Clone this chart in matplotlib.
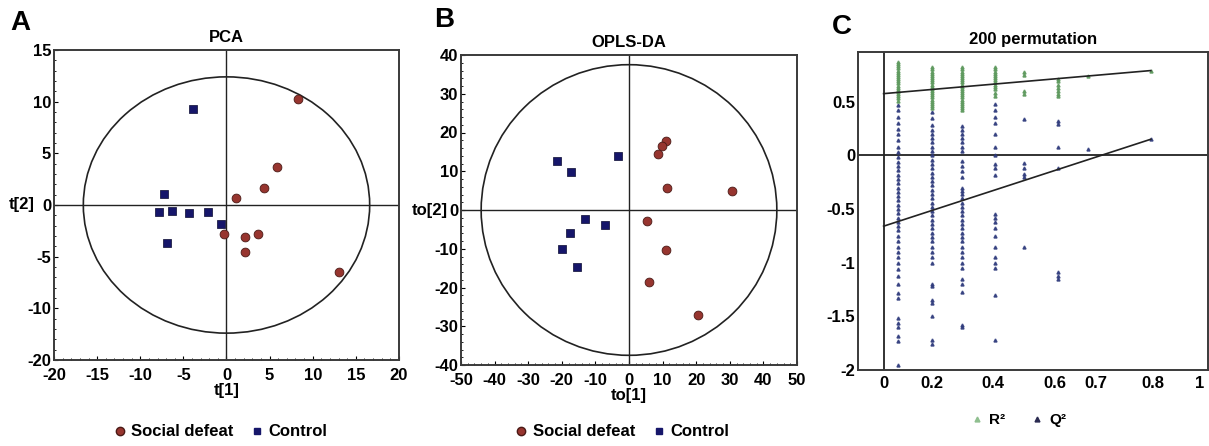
import matplotlib
matplotlib.use('Agg')
import matplotlib.pyplot as plt
from matplotlib import font_manager
from matplotlib.patches import Ellipse
from matplotlib.lines import Line2D
from matplotlib.ticker import AutoMinorLocator

# ---- data ----
# A: PCA scores
pca_sd_x = [8.3, 5.9, 4.4, 1.1, -0.3, 2.2, 3.6, 2.2, 13.0]
pca_sd_y = [10.3, 3.7, 1.6, 0.7, -2.8, -3.1, -2.8, -4.5, -6.5]
pca_ctrl_x = [-3.9, -7.2, -7.8, -6.3, -4.4, -2.2, -0.6, -6.9]
pca_ctrl_y = [9.3, 1.1, -0.7, -0.55, -0.8, -0.7, -1.8, -3.7]
pca_ellipse = [16.6, 12.4]          # semi-axes (Hotelling T2)
pca_xticks = [-20, -15, -10, -5, 0, 5, 10, 15, 20]
pca_yticks = [15, 10, 5, 0, -5, -10, -15]
pca_ytick_labels = ['15', '10', '5', '0', '-5', '-10', '-20']

# B: OPLS-DA scores
opls_sd_x = [10.9, 9.8, 8.6, 11.3, 30.7, 5.4, 11.0, 5.9, 20.6]
opls_sd_y = [17.9, 16.5, 14.4, 5.8, 5.0, -2.8, -10.3, -18.5, -27.0]
opls_ctrl_x = [-21.4, -17.4, -3.2, -13.2, -7.0, -17.5, -20.0, -15.6]
opls_ctrl_y = [12.7, 9.8, 13.9, -2.4, -3.9, -6.0, -10.0, -14.6]
opls_ellipse = [44.0, 37.5]
opls_xticks = [-50, -40, -30, -20, -10, 0, 10, 20, 30, 40, 50]
opls_yticks = [40, 30, 20, 10, 0, -10, -20, -30, -40]

# C: 200 permutation test
perm_x = [0.045, 0.154, 0.247, 0.351, 0.445, 0.551, 0.645, 0.845]
perm_r2 = [
    [0.87, 0.85, 0.83, 0.81, 0.79, 0.77, 0.75, 0.73, 0.71, 0.69, 0.67, 0.65,
     0.63, 0.61, 0.59, 0.57, 0.55, 0.53, 0.51],
    [0.82, 0.80, 0.78, 0.76, 0.74, 0.72, 0.70, 0.68, 0.66, 0.64, 0.62, 0.60,
     0.58, 0.56, 0.54, 0.52, 0.50, 0.48, 0.46, 0.44],
    [0.82, 0.80, 0.78, 0.76, 0.74, 0.72, 0.70, 0.68, 0.66, 0.64, 0.62, 0.60,
     0.58, 0.56, 0.54, 0.52, 0.50, 0.48, 0.46, 0.44, 0.42],
    [0.82, 0.80, 0.78, 0.76, 0.74, 0.72, 0.70, 0.68, 0.66, 0.64, 0.62, 0.58, 0.55],
    [0.78, 0.75, 0.60, 0.57],
    [0.71, 0.69, 0.66, 0.63, 0.60, 0.57, 0.55],
    [0.74],
    [0.79],
]
perm_q2 = [
    [0.47, 0.42, 0.36, 0.30, 0.25, 0.20, 0.14, 0.08, 0.03, -0.02, -0.06, -0.10,
     -0.14, -0.18, -0.22, -0.26, -0.30, -0.34, -0.38, -0.42, -0.46, -0.50,
     -0.54, -0.58, -0.62, -0.66, -0.70, -0.75, -0.80, -0.85, -0.90, -0.95,
     -1.00, -1.06, -1.12, -1.20, -1.28, -1.33, -1.52, -1.56, -1.60, -1.68,
     -1.73, -1.95],
    [0.40, 0.35, 0.28, 0.24, 0.20, 0.16, 0.12, 0.08, 0.04, 0.00, -0.04, -0.08,
     -0.12, -0.16, -0.20, -0.24, -0.28, -0.32, -0.36, -0.40, -0.44, -0.48,
     -0.52, -0.56, -0.60, -0.64, -0.68, -0.72, -0.76, -0.80, -0.85, -0.90,
     -0.95, -1.00, -1.20, -1.22, -1.35, -1.38, -1.50, -1.72, -1.76],
    [0.27, 0.24, 0.20, 0.16, 0.12, 0.08, 0.04, -0.05, -0.10, -0.15, -0.20,
     -0.30, -0.33, -0.36, -0.40, -0.44, -0.48, -0.52, -0.56, -0.60, -0.64,
     -0.68, -0.72, -0.76, -0.80, -0.85, -0.90, -0.95, -1.00, -1.05, -1.15,
     -1.20, -1.27, -1.58, -1.60],
    [0.48, 0.42, 0.36, 0.30, 0.20, 0.08, 0.00, -0.08, -0.12, -0.18, -0.55,
     -0.58, -0.62, -0.68, -0.75, -0.85, -0.95, -1.00, -1.05, -1.30, -1.72],
    [0.34, -0.07, -0.12, -0.17, -0.20, -0.85],
    [0.32, 0.29, 0.08, -0.12, -1.09, -1.12, -1.15],
    [0.06],
    [0.15],
]
r2_line_x = [0.0, 0.845]
r2_line_y = [0.575, 0.79]
q2_line_x = [0.0, 0.845]
q2_line_y = [-0.66, 0.15]
perm_xticks = [0.0, 0.154, 0.347, 0.543, 0.672, 0.851, 1.0]
perm_xtick_labels = ['0', '0.2', '0.4', '0.6', '0.7', '0.8', '1']
perm_yticks = [0.5, 0, -0.5, -1, -1.5, -2]
perm_ytick_labels = ['0.5', '0', '-0.5', '-1', '-1.5', '-2']


def pick_font(names):
    for n in names:
        try:
            font_manager.findfont(n, fallback_to_default=False)
            return n
        except ValueError:
            continue
    return 'DejaVu Sans'


FONT = pick_font(['Liberation Sans Narrow', 'Liberation Sans'])
plt.rcParams['font.family'] = [FONT, 'DejaVu Sans']
plt.rcParams['font.weight'] = 'bold'
plt.rcParams['axes.unicode_minus'] = False
TICK_FS = 12
LEG_FS = 12

SD_COLOR = '#97352f'
SD_EDGE = '#4a1a16'
CTRL_COLOR = '#16166a'
R2_COLOR = '#5f9a5f'
Q2_COLOR = '#2e3a7c'

W, H = 1209, 446
fig = plt.figure(figsize=(W / 100, H / 100), dpi=100)


def add_ax(left, top, right, bottom):
    return fig.add_axes([left / W, 1 - bottom / H, (right - left) / W, (bottom - top) / H])


def style(ax, minor=True):
    for s in ax.spines.values():
        s.set_linewidth(1.4)
        s.set_color('#3a3a3a')
    ax.tick_params(direction='in', length=3, width=0.8, pad=2, labelsize=TICK_FS)
    ax.tick_params(axis='x', pad=6)
    if minor:
        ax.xaxis.set_minor_locator(AutoMinorLocator(5))
        ax.yaxis.set_minor_locator(AutoMinorLocator(5))
        ax.tick_params(which='minor', direction='in', length=1.5, width=0.6)


def score_plot(ax, sd_x, sd_y, c_x, c_y, semi, xt, yt, ytl, xlabel, ylabel, ylabx, title):
    ax.set_xlim(xt[0], xt[-1])
    ax.set_ylim(yt[-1], yt[0])
    ax.add_patch(Ellipse((0, 0), 2 * semi[0], 2 * semi[1], fill=False, ec='#222222', lw=1.2))
    ax.axhline(0, color='#222222', lw=1.0)
    ax.axvline(0, color='#222222', lw=1.0)
    ax.scatter(c_x, c_y, marker='s', s=28, color=CTRL_COLOR, edgecolors='#0a0a30', lw=0.5, zorder=3)
    ax.scatter(sd_x, sd_y, marker='o', s=40, color=SD_COLOR, edgecolors=SD_EDGE, lw=0.6, zorder=3)
    ax.set_xticks(xt)
    ax.set_yticks(yt)
    ax.set_yticklabels(ytl)
    style(ax)
    ax.set_xlabel(xlabel, fontsize=TICK_FS, fontweight='bold', labelpad=0)
    ax.set_ylabel(ylabel, fontsize=TICK_FS, fontweight='bold', rotation=0, ha='right', va='center')
    ax.yaxis.set_label_coords(ylabx, 0.5)
    ax.set_title(title, fontsize=12, fontweight='bold', pad=6)
    handles = [
        Line2D([], [], ls='none', marker='o', ms=6, color=SD_COLOR, mec=SD_EDGE, label='Social defeat'),
        Line2D([], [], ls='none', marker='s', ms=4.5, color=CTRL_COLOR, label='Control'),
    ]
    return handles


# ---- A ----
axA = add_ax(54, 50, 399, 360)
h = score_plot(axA, pca_sd_x, pca_sd_y, pca_ctrl_x, pca_ctrl_y, pca_ellipse,
               pca_xticks, pca_yticks, pca_ytick_labels, 't[1]', 't[2]', -0.055, 'PCA')
axA.legend(handles=h, loc='center', bbox_to_anchor=(0.48, -0.232), ncol=2, frameon=False,
           fontsize=LEG_FS, handletextpad=0.2, columnspacing=0.9, handlelength=1.0)
fig.text(10 / W, 1 - 23 / H, 'A', fontsize=20, fontweight='bold', va='center', ha='left')

# ---- B ----
axB = add_ax(461, 55, 797, 365)
h = score_plot(axB, opls_sd_x, opls_sd_y, opls_ctrl_x, opls_ctrl_y, opls_ellipse,
               opls_xticks, opls_yticks, [str(v) for v in opls_yticks], 'to[1]', 'to[2]', -0.039, 'OPLS-DA')
axB.legend(handles=h, loc='center', bbox_to_anchor=(0.476, -0.216), ncol=2, frameon=False,
           fontsize=LEG_FS, handletextpad=0.2, columnspacing=0.9, handlelength=1.0)
fig.text(434 / W, 1 - 20 / H, 'B', fontsize=20, fontweight='bold', va='center', ha='left')

# ---- C ----
axC = add_ax(858, 52, 1208, 370)
axC.set_xlim(-0.081, 1.026)
axC.set_ylim(-2.0, 0.963)
axC.axhline(0, color='#222222', lw=1.3)
axC.axvline(0, color='#222222', lw=1.3)
for xv, r2v, q2v in zip(perm_x, perm_r2, perm_q2):
    axC.plot([xv] * len(q2v), q2v, ls='none', marker='^', ms=2.2, color=Q2_COLOR, alpha=0.85)
    axC.plot([xv] * len(r2v), r2v, ls='none', marker='^', ms=2.2, color=R2_COLOR, alpha=0.9)
axC.plot(r2_line_x, r2_line_y, color='#222222', lw=1.2)
axC.plot(q2_line_x, q2_line_y, color='#222222', lw=1.2)
axC.set_xticks(perm_xticks)
axC.set_xticklabels(perm_xtick_labels)
axC.set_yticks(perm_yticks)
axC.set_yticklabels(perm_ytick_labels)
style(axC, minor=False)
axC.tick_params(length=0)
axC.tick_params(axis='x', pad=4)
axC.set_title('200 permutation', fontsize=12, fontweight='bold', pad=6)
hc = [
    Line2D([], [], ls='none', marker='^', ms=3.5, color='#8fbf8f', label='R²'),
    Line2D([], [], ls='none', marker='^', ms=3.5, color='#2a2a50', label='Q²'),
]
axC.legend(handles=hc, loc='center', bbox_to_anchor=(0.456, -0.157), ncol=2, frameon=False,
           fontsize=11, handletextpad=0.3, columnspacing=1.6, handlelength=1.0)
fig.text(832 / W, 1 - 27 / H, 'C', fontsize=20, fontweight='bold', va='center', ha='left')

fig.savefig('out.png', dpi=100, facecolor='white')
